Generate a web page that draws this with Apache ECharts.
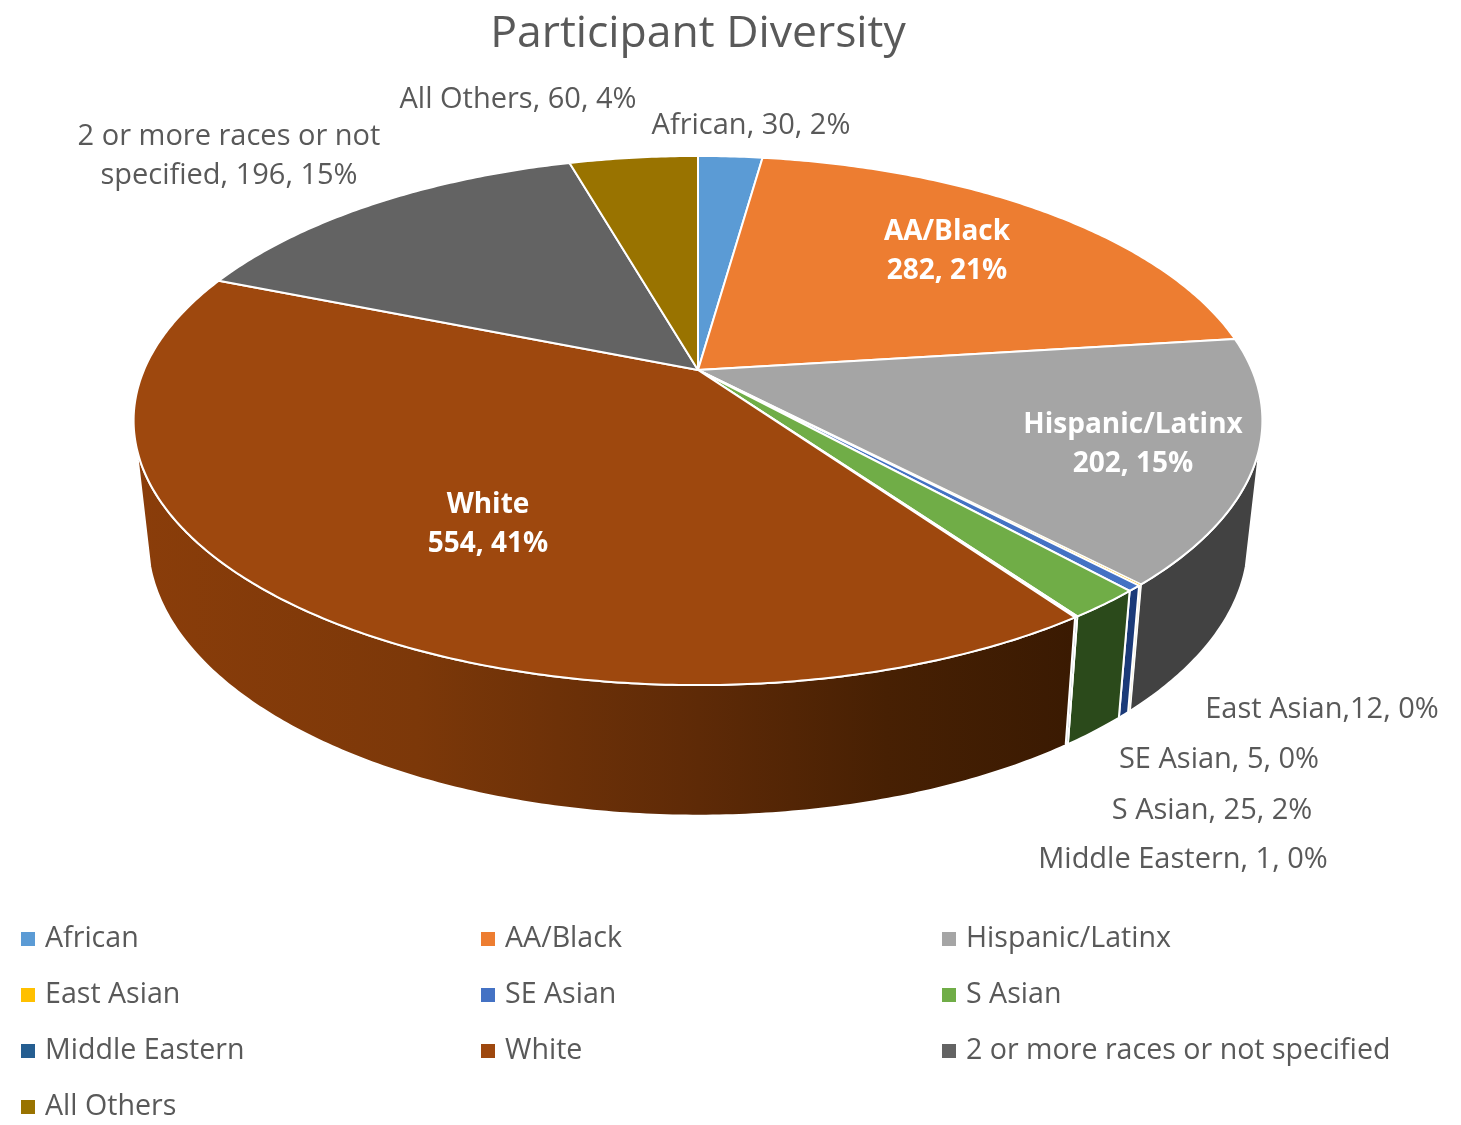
<!DOCTYPE html>
<html>
<head>
<meta charset="utf-8">
<style>html,body{margin:0;padding:0;background:#fff}#c{width:1461px;height:1125px}</style>
<script src="https://cdn.jsdelivr.net/npm/echarts@6/dist/echarts.min.js"></script>
</head>
<body>
<div id="c"></div>
<script>
const categories = ['African','AA/Black','Hispanic/Latinx','East Asian','SE Asian','S Asian','Middle Eastern','White','2 or more races or not specified','All Others'];
// Slice sizes as drawn in the picture (the East Asian slice is a hairline, although its label says 12).
const values = [30,282,202,1,5,25,1,554,196,60];
const labels = ['African, 30, 2%','AA/Black\n282, 21%','Hispanic/Latinx\n202, 15%','East Asian,12, 0%','SE Asian, 5, 0%','S Asian, 25, 2%','Middle Eastern, 1, 0%','White\n554, 41%','2 or more races or not\nspecified, 196, 15%','All Others, 60, 4%'];
const colors = ['#5B9BD5','#ED7D31','#A5A5A5','#FFC000','#4472C4','#70AD47','#255E91','#9E480E','#636363','#997300'];
const wallColors = ['#3d6a94','#a55620','#424242','#e8dcae','#1b3a78','#2b4a1b','#16365c','#7a3808','#3e3e3e','#6a5000'];
const labelAnchors = [[751,126],[947,252],[1133,445],[1322,710],[1219,760],[1212,811],[1183,860],[488,525],[229,156],[518,100]];
const insideLabel = [false,true,true,false,false,false,false,true,false,false];
const legendColumns = [[0,3,6,9],[1,4,7],[2,5,8]];
const legendLefts = [21,481,942];

const FONT = '"Open Sans"';
const total = values.reduce((a,b)=>a+b,0);
const P = {cx:698, cy:370, A:254.9, B:554, k:0.191, sx:0.975, sy:1.04, bottomCy:488, frontV:0.28};

function project(theta, bottom){
  const u=Math.sin(theta), v=-Math.cos(theta), d=1-P.k*v;
  const sx=bottom?P.sx:1, sy=bottom?P.sy:1, cy=bottom?P.bottomCy:P.cy;
  return [P.cx+sx*P.B*u/d, cy+sy*P.A*v/d];
}
function arc(a,b,bottom){
  const n=Math.max(2,Math.ceil(Math.abs(b-a)/0.01)), out=[];
  for(let i=0;i<=n;i++) out.push(project(a+(b-a)*i/n,bottom));
  return out;
}
const front0=Math.acos(-P.frontV), front1=2*Math.PI-front0;

function makeRender(i){
  return function(params, api){
    const val=api.value(0);
    let before=0; for(let j=0;j<i;j++) before+=values[j];
    const a=before/total*2*Math.PI, b=(before+val)/total*2*Math.PI;
    const children=[];
    const wa=Math.max(a,front0), wb=Math.min(b,front1);
    const lw=i===3?1:2;
    if(wb>wa){
      const pts=arc(wa,wb,false).concat(arc(wb,wa,true));
      const fill = i===7 ? {type:'linear',x:135,y:0,x2:1075,y2:0,global:true,colorStops:[
          {offset:0,color:'#8a3d0a'},{offset:0.3,color:'#7c3809'},{offset:0.6,color:'#5e2a07'},{offset:0.8,color:'#472003'},{offset:1,color:'#3a1a02'}]} : wallColors[i];
      children.push({type:'polygon',z2:1,shape:{points:pts},style:{fill:fill,stroke:'#fff',lineWidth:lw}});
    }
    const top=[[P.cx,P.cy]].concat(arc(a,b,false));
    children.push({type:'polygon',z2:2,shape:{points:top},style:{fill:colors[i],stroke:'#fff',lineWidth:lw,lineJoin:'round'}});
    children.push({type:'text',z2:5,style:{text:labels[i],x:labelAnchors[i][0],y:labelAnchors[i][1],align:'center',verticalAlign:'middle',
      lineHeight:39,fill:insideLabel[i]?'#fff':'#595959',font:(insideLabel[i]?'bold 28px ':'29px ')+FONT}});
    return {type:'group',children:children};
  };
}

const option={
  backgroundColor:'#fff',
  animation:false,
  title:{text:'Participant Diversity',left:698,top:12,padding:0,textAlign:'center',textStyle:{color:'#595959',fontSize:44.5,fontWeight:'normal',fontFamily:FONT}},
  legend:legendColumns.map((col,c)=>({
    orient:'vertical',left:legendLefts[c],top:922,height:215,padding:0,itemWidth:14,itemHeight:14,itemGap:22,selectedMode:false,
    icon:'rect',data:col.map(i=>categories[i]),
    textStyle:{color:'#595959',fontSize:28.6,fontFamily:FONT,lineHeight:34,padding:[0,0,0,5]}
  })),
  series:categories.map((name,i)=>({
    type:'custom',name:name,coordinateSystem:'none',silent:true,
    itemStyle:{color:colors[i]},
    data:[[values[i]]],
    renderItem:makeRender(i)
  }))
};
echarts.init(document.getElementById('c')).setOption(option);
</script>
</body>
</html>
